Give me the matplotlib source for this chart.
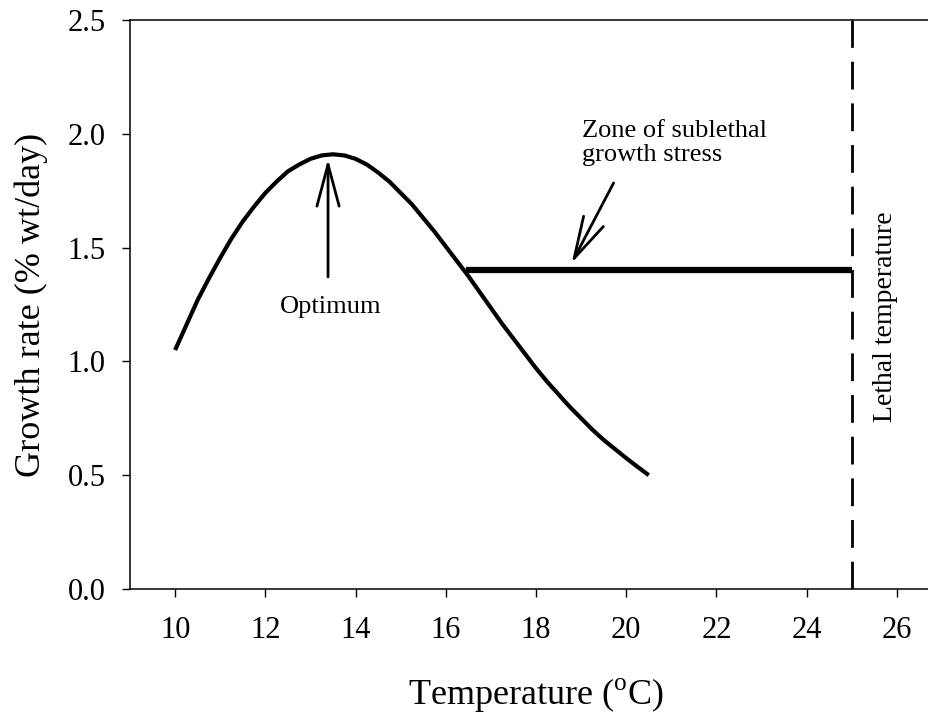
import matplotlib
matplotlib.use("Agg")
import matplotlib.pyplot as plt

plt.rcParams['font.family'] = ['Liberation Serif', 'DejaVu Serif']
plt.rcParams['mathtext.fontset'] = 'custom'
plt.rcParams['mathtext.rm'] = 'Liberation Serif'

# Growth curve
temp = [10.00, 10.25, 10.50, 10.75, 11.00, 11.25, 11.50, 11.75, 12.00, 12.25,
        12.50, 12.75, 13.00, 13.25, 13.50, 13.75, 14.00, 14.25, 14.50, 14.75,
        15.00, 15.25, 15.50, 15.75, 16.00, 16.25, 16.50, 16.75, 17.00, 17.25,
        17.50, 17.75, 18.00, 18.25, 18.50, 18.75, 19.00, 19.25, 19.50, 19.75,
        20.00, 20.25, 20.50]
growth = [1.05, 1.16, 1.27, 1.365, 1.455, 1.54, 1.615, 1.68, 1.74, 1.79,
          1.835, 1.865, 1.89, 1.905, 1.91, 1.905, 1.89, 1.865, 1.83, 1.79,
          1.74, 1.69, 1.63, 1.57, 1.505, 1.44, 1.375, 1.305, 1.235, 1.165,
          1.10, 1.035, 0.97, 0.91, 0.855, 0.80, 0.75, 0.70, 0.655, 0.615,
          0.575, 0.537, 0.50]

# Sublethal stress zone line
stress_x = [16.44, 25.0]
stress_y = [1.40, 1.40]

lethal_temp = 25.0

x_ticks = [10, 12, 14, 16, 18, 20, 22, 24, 26]
y_ticks = [0.0, 0.5, 1.0, 1.5, 2.0, 2.5]

fig = plt.figure(figsize=(9.29, 7.15), dpi=100)
ax = fig.add_axes([130/929, 126/715, 812/929, 569/715])

ax.plot(temp, growth, color='black', lw=3.0, solid_capstyle='butt')
ax.plot(stress_x, stress_y, color='black', lw=4.5, solid_capstyle='butt')
ax.axvline(lethal_temp, color='black', lw=2.0, dashes=(10, 5))

ax.set_xlim(9, 27)
ax.set_ylim(0, 2.5)
ax.set_xticks(x_ticks)
ax.set_yticks(y_ticks)
ax.set_yticklabels([f"{v:.1f}" for v in y_ticks])
ax.tick_params(axis='both', direction='out', length=5.5, width=1, labelsize=22)
ax.tick_params(axis='x', pad=14)
ax.tick_params(axis='y', pad=12)
for s in ['left', 'bottom', 'top', 'right']:
    ax.spines[s].set_linewidth(1.1)

ax.set_xlabel(r'Temperature ($^{\mathrm{o}}$C)', fontsize=26, labelpad=22)
ax.set_ylabel('Growth rate (% wt/day)', fontsize=26, labelpad=14)

arrow_style = '->,head_length=3.0,head_width=0.8'
ax.annotate('', xy=(13.39, 1.889), xytext=(13.39, 1.371),
            arrowprops=dict(arrowstyle=arrow_style, color='black', lw=2.0,
                            shrinkA=0, shrinkB=0))
ax.text(13.45, 1.24, 'Optimum', fontsize=19, ha='center', va='center')

ax.annotate('', xy=(18.79, 1.432), xytext=(19.72, 1.784),
            arrowprops=dict(arrowstyle=arrow_style, color='black', lw=2.0,
                            shrinkA=0, shrinkB=0))
ax.text(19.03, 1.96, 'Zone of sublethal\ngrowth stress', fontsize=19,
        ha='left', va='center', linespacing=1.1)

ax.text(25.74, 1.195, 'Lethal temperature', fontsize=20, rotation=90,
        ha='center', va='center')

fig.savefig('out.png', dpi=100)
